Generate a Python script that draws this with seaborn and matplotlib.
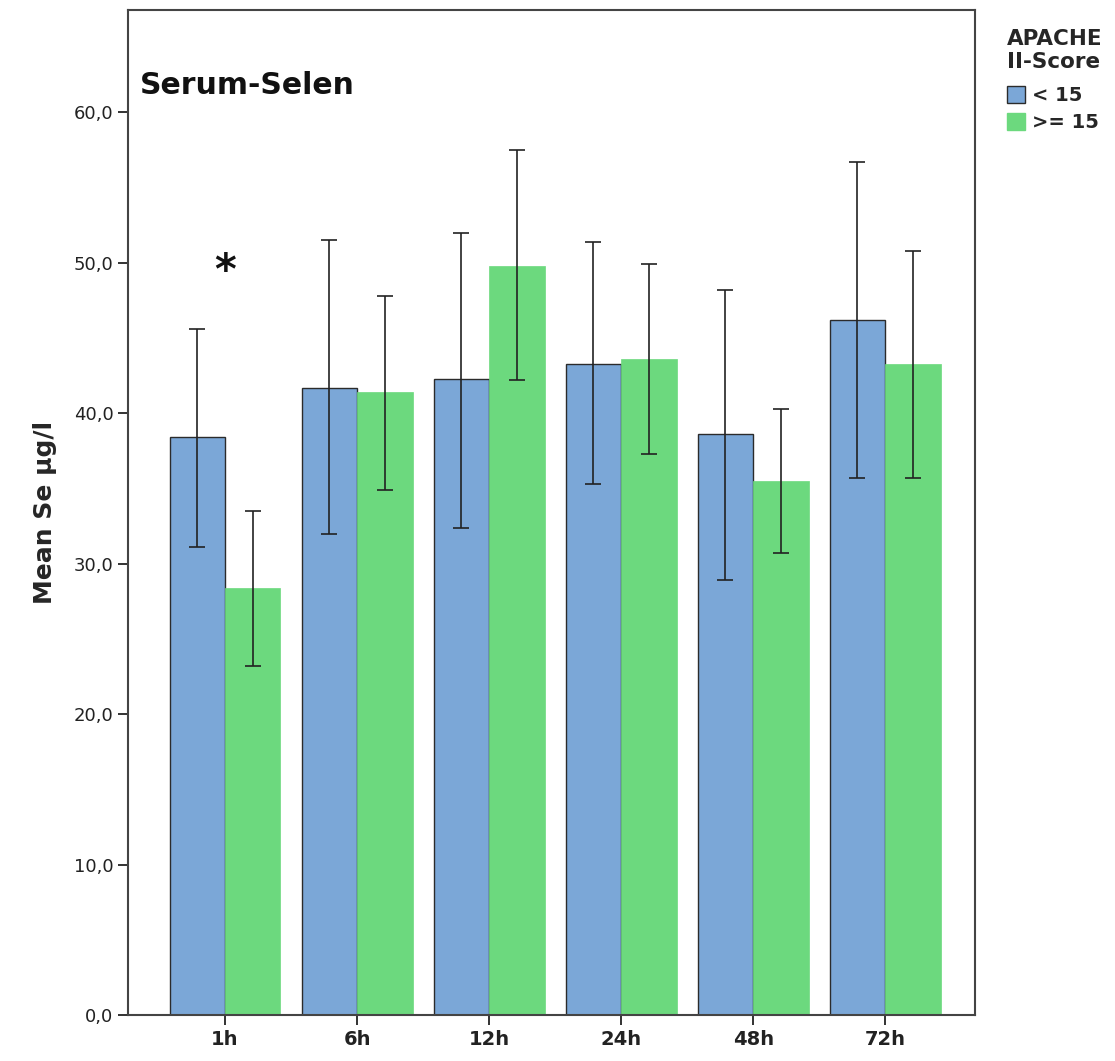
import numpy as np
import pandas as pd
import matplotlib
matplotlib.use("Agg")
import matplotlib.pyplot as plt
import seaborn as sns
from matplotlib.patches import Patch

# data
times = ["1h", "6h", "12h", "24h", "48h", "72h"]
groups = ["< 15", ">= 15"]
mean_low = [38.4, 41.7, 42.3, 43.3, 38.6, 46.2]
mean_high = [28.4, 41.4, 49.8, 43.6, 35.5, 43.3]
err_lo_low = [31.1, 32.0, 32.4, 35.3, 28.9, 35.7]
err_hi_low = [45.6, 51.5, 52.0, 51.4, 48.2, 56.7]
err_lo_high = [23.2, 34.9, 42.2, 37.3, 30.7, 35.7]
err_hi_high = [33.5, 47.8, 57.5, 49.9, 40.3, 50.8]
yticks = [0, 10, 20, 30, 40, 50, 60]

blue = "#7ba7d7"
green = "#6cd97e"

df = pd.DataFrame({
    "time": times * 2,
    "group": [groups[0]] * 6 + [groups[1]] * 6,
    "mean": mean_low + mean_high,
})

sns.set_style("white")
plt.rcParams["font.family"] = ["DejaVu Sans"]

fig = plt.figure(figsize=(11.15, 10.61), dpi=100)
ax = fig.add_axes([0.1148, 0.0434, 0.7596, 0.9472])

sns.barplot(data=df, x="time", y="mean", hue="group", order=times,
            hue_order=groups, palette=[blue, green], width=0.84,
            errorbar=None, legend=False, ax=ax, saturation=1)

# edges: dark on blue, none on green
for bar in ax.containers[0]:
    bar.set_edgecolor("#2b2b2b")
    bar.set_linewidth(1.0)
for bar in ax.containers[1]:
    bar.set_edgecolor(green)
    bar.set_linewidth(0.5)

# error bars at bar centres
for cont, lo, hi, m in [(ax.containers[0], err_lo_low, err_hi_low, mean_low),
                        (ax.containers[1], err_lo_high, err_hi_high, mean_high)]:
    xs = [b.get_x() + b.get_width() / 2 for b in cont]
    m = np.array(m)
    yerr = [m - np.array(lo), np.array(hi) - m]
    ax.errorbar(xs, m, yerr=yerr, fmt="none", ecolor="#222222",
                elinewidth=1.2, capsize=5.5, capthick=1.2)

ax.set_xlim(-0.735, 5.68)
ax.set_ylim(0, 66.8)
ax.set_yticks(yticks)
ax.set_yticklabels([f"{v},0" for v in yticks], fontsize=13, color="#222222")
ax.set_xticks(range(len(times)))
ax.set_xticklabels(times, fontsize=14, fontweight="bold", color="#222222")
ax.tick_params(axis="both", direction="out", length=7, width=1.3,
               colors="#222222", bottom=True, left=True)
ax.set_xlabel("")
ax.set_ylabel("Mean Se µg/l", fontsize=18, fontweight="bold", labelpad=12)

for s in ax.spines.values():
    s.set_color("#444444")
    s.set_linewidth(1.5)

ax.text(0.014, 0.925, "Serum-Selen", transform=ax.transAxes,
        fontsize=21.5, fontweight="bold", color="#111111", va="center")

# significance marker
ax.text(0, 49.4, "*", ha="center", va="center", fontsize=30,
        fontweight="bold", color="#111111")

handles = [Patch(facecolor=blue, edgecolor="#2b2b2b", label=groups[0]),
           Patch(facecolor=green, edgecolor=green, label=groups[1])]
leg = fig.legend(handles=handles, title="APACHE\nII-Score", loc="upper left",
                 bbox_to_anchor=(0.894, 0.982), frameon=False, fontsize=14,
                 title_fontproperties={"weight": "bold", "size": 15.5},
                 handlelength=0.95, handleheight=0.95, handletextpad=0.35,
                 labelspacing=0.4, borderpad=0)
leg._legend_box.align = "left"
leg._legend_box.sep = 10
for t in leg.get_texts():
    t.set_fontweight("bold")

fig.savefig("out.png", dpi=100)
